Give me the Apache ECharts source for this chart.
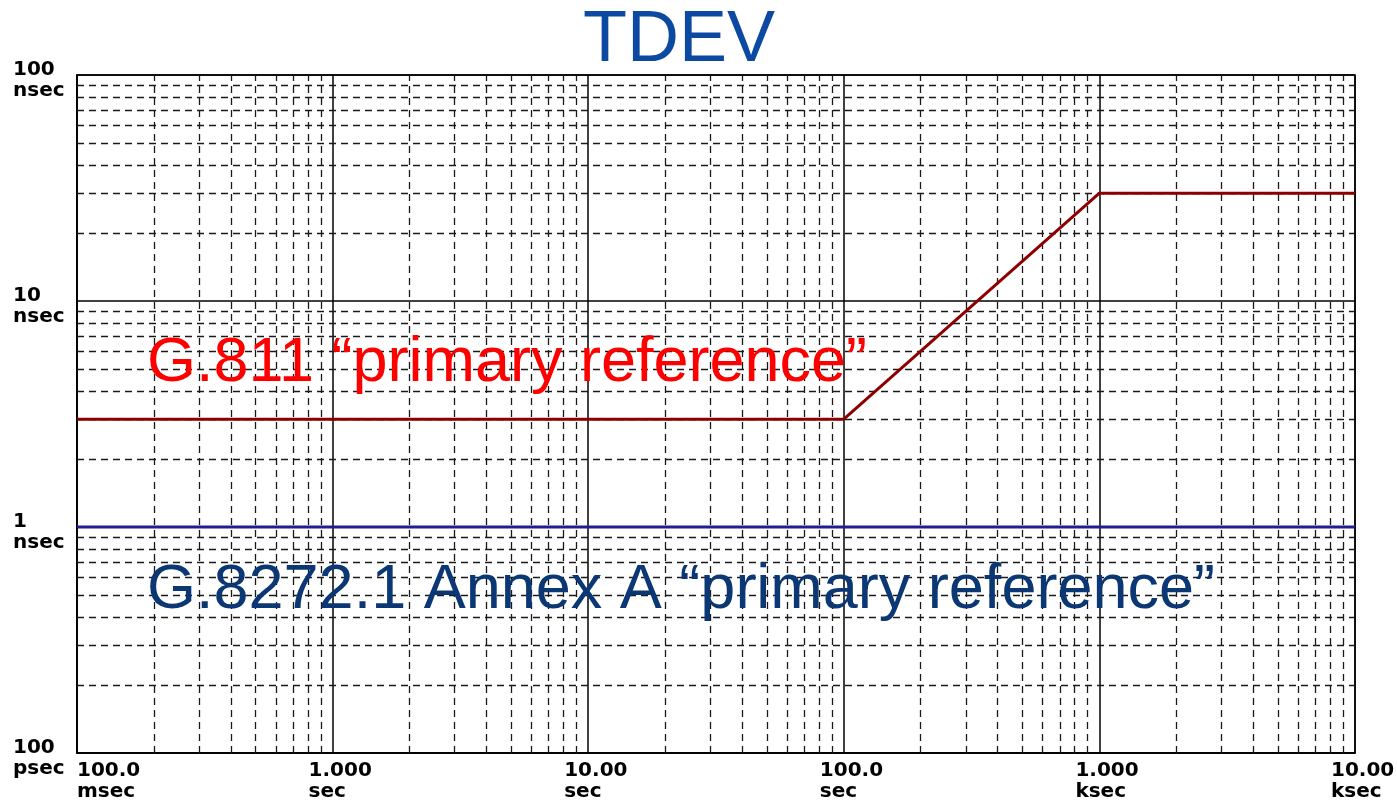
<!DOCTYPE html>
<html>
<head>
<meta charset="utf-8">
<title>TDEV</title>
<script src="https://cdn.jsdelivr.net/npm/echarts@6/dist/echarts.min.js"></script>
<style>
  html, body { margin: 0; padding: 0; background: #ffffff; }
  #chart { width: 1397px; height: 800px; }
</style>
</head>
<body>
<div id="chart"></div>
<script>
// Observation interval (seconds) and TDEV masks (nanoseconds)
const g811Tau = [0.1, 100, 1000, 10000];
const g811Tdev = [3, 3, 30, 30];
const g8272Tau = [0.1, 10000];
const g8272Tdev = [1, 1];

// Decade tick labels, indexed by log10 of the tick value
const xTickLabels = {
  '-1': ['100.0', 'msec'],
  '0': ['1.000', 'sec'],
  '1': ['10.00', 'sec'],
  '2': ['100.0', 'sec'],
  '3': ['1.000', 'ksec'],
  '4': ['10.00', 'ksec']
};
const yTickLabels = {
  '-1': ['100', 'psec'],
  '0': ['1', 'nsec'],
  '1': ['10', 'nsec'],
  '2': ['100', 'nsec']
};

const titleText = 'TDEV';
const g811Text = 'G.811 \u201cprimary reference\u201d';
const g8272Text = 'G.8272.1 Annex A \u201cprimary reference\u201d';

// Minor (2..9) grid positions within each decade
function minorLines(minExp, maxExp) {
  const out = [];
  for (let e = minExp; e < maxExp; e++) {
    for (let m = 2; m <= 9; m++) out.push(m * Math.pow(10, e));
  }
  return out;
}
const minorX = minorLines(-1, 4);
const minorY = minorLines(-1, 2);

const labelFont = '"DejaVu Sans", Verdana, sans-serif';
const decade = v => String(Math.round(Math.log10(v)));
const tickText = { fontFamily: labelFont, fontWeight: 'bold', fontSize: 20, color: '#000' };

const chart = echarts.init(document.getElementById('chart'), null, { renderer: 'canvas' });

chart.setOption({
  animation: false,
  backgroundColor: '#ffffff',
  grid: {
    left: 77, top: 75, right: 42, bottom: 47,
    show: true, borderColor: '#000000', borderWidth: 1.5,
    containLabel: false, outerBoundsMode: 'none'
  },
  xAxis: {
    type: 'log', logBase: 10, min: 0.1, max: 10000, splitNumber: 5,
    axisLine: { show: true, lineStyle: { color: '#000', width: 1.5 } },
    axisTick: { show: false },
    splitLine: { show: true, lineStyle: { color: '#000', width: 1.5, type: 'solid' } },
    axisLabel: {
      show: true, showMinLabel: true, showMaxLabel: true, hideOverlap: false,
      margin: 8, align: 'center', alignMinLabel: 'left',
      formatter: v => {
        const l = xTickLabels[decade(v)];
        return l ? '{v|' + l[0] + '}\n{u|' + l[1] + '}' : '';
      },
      rich: {
        v: Object.assign({ width: 48, align: 'left', lineHeight: 20 }, tickText),
        u: Object.assign({ width: 48, align: 'left', lineHeight: 21 }, tickText)
      }
    }
  },
  yAxis: {
    type: 'log', logBase: 10, min: 0.1, max: 100, splitNumber: 3,
    axisLine: { show: true, lineStyle: { color: '#000', width: 1.5 } },
    axisTick: { show: false },
    splitLine: { show: true, lineStyle: { color: '#000', width: 1.5, type: 'solid' } },
    axisLabel: {
      show: true, showMinLabel: true, showMaxLabel: true, hideOverlap: false,
      margin: 64, align: 'left', verticalAlign: 'middle',
      formatter: v => {
        const l = yTickLabels[decade(v)];
        return l ? '{n|' + l[0] + '}\n{u|' + l[1] + '}' : '';
      },
      rich: {
        n: Object.assign({ lineHeight: 31, align: 'left' }, tickText),
        u: Object.assign({ lineHeight: 10, align: 'left' }, tickText)
      }
    }
  },
  series: [
    {
      // dashed minor grid
      type: 'line', data: [], silent: true, z: 1,
      markLine: {
        silent: true, symbol: ['none', 'none'], animation: false,
        label: { show: false },
        lineStyle: { color: '#1a1a1a', width: 1.3, type: [7, 5] },
        emphasis: { disabled: true },
        data: minorX.map(v => ({ xAxis: v })).concat(minorY.map(v => ({ yAxis: v })))
      }
    },
    {
      name: 'G.811', type: 'line', z: 5,
      data: g811Tau.map((t, i) => [t, g811Tdev[i]]),
      symbol: 'none', lineStyle: { color: '#8e0000', width: 3 }
    },
    {
      name: 'G.8272.1', type: 'line', z: 5,
      data: g8272Tau.map((t, i) => [t, g8272Tdev[i]]),
      symbol: 'none', lineStyle: { color: '#1f1f8f', width: 3 }
    }
  ],
  graphic: [
    {
      type: 'text', x: 679, y: 41, z: 10,
      style: { text: titleText, fill: '#0b4aa0', font: '72px "Liberation Sans", Arial, sans-serif', align: 'center', verticalAlign: 'middle' }
    },
    {
      type: 'text', x: 147, y: 364, z: 10,
      style: { text: g811Text, fill: '#ff0000', font: '63px "Liberation Sans", Arial, sans-serif', align: 'left', verticalAlign: 'middle' }
    },
    {
      type: 'text', x: 147, y: 591, z: 10,
      style: { text: g8272Text, fill: '#0b3875', font: '63px "Liberation Sans", Arial, sans-serif', align: 'left', verticalAlign: 'middle' }
    }
  ]
});
</script>
</body>
</html>
